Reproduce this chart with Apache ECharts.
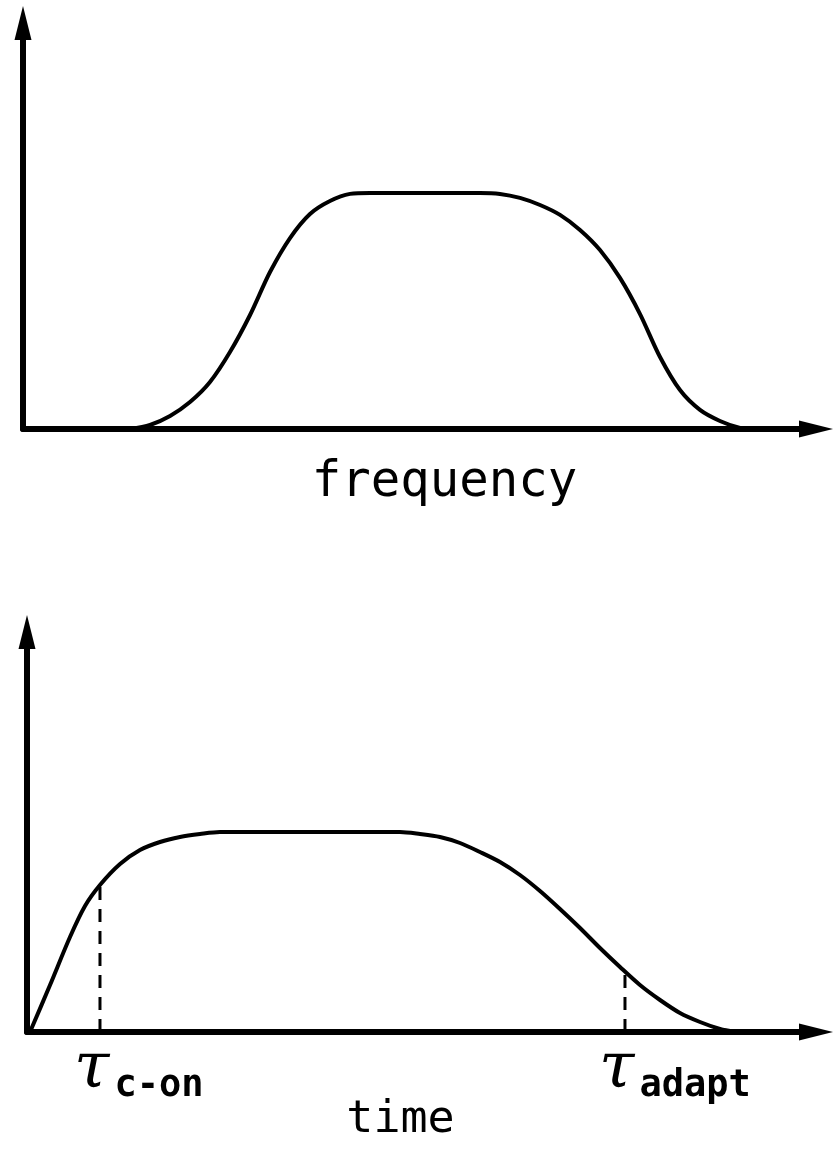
<!DOCTYPE html>
<html>
<head>
<meta charset="utf-8">
<script src="https://cdn.jsdelivr.net/npm/echarts@6/dist/echarts.min.js"></script>
<style>
  html, body { margin: 0; padding: 0; background: #fff; }
  #chart { width: 833px; height: 1162px; }
</style>
</head>
<body>
<div id="chart"></div>
<script>
// Upper panel: response across frequency (relative units, plateau = 1)
const freqX = [13.49, 16.02, 18.54, 21.06, 23.58, 26.10, 28.63, 31.15, 33.67, 36.19, 38.71, 41.24, 43.76,
               57.63, 60.15, 62.67, 65.20, 67.72, 70.24, 72.76, 75.28, 77.81, 80.33, 82.85, 85.37, 87.89, 90.42, 91.68];
const freqY = [0, 0.017, 0.055, 0.114, 0.199, 0.326, 0.483, 0.665, 0.809, 0.911, 0.966, 0.996, 1.0,
               1.0, 0.996, 0.979, 0.949, 0.907, 0.843, 0.758, 0.640, 0.487, 0.305, 0.165, 0.081, 0.034, 0.004, 0];

// Lower panel: response over time
const timeX = [0.38, 2.92, 5.45, 7.35, 9.25, 11.79, 14.32, 16.86, 19.39, 21.93, 24.46, 47.27,
               49.81, 52.34, 54.88, 57.41, 59.95, 62.48, 65.02, 67.55, 70.09, 72.62, 75.16, 77.69, 80.23, 82.76, 85.30, 87.83, 89.73];
const timeY = [0, 0.235, 0.475, 0.63, 0.735, 0.84, 0.91, 0.95, 0.975, 0.99, 1.0, 1.0,
               0.99, 0.975, 0.945, 0.90, 0.85, 0.785, 0.705, 0.615, 0.52, 0.42, 0.325, 0.235, 0.16, 0.095, 0.05, 0.015, 0];

// Time constants marked on the time axis
const tauNames = ['c-on', 'adapt'];
const tauX = [9.25, 75.79];
const tauY = [0.735, 0.30];

const axisTitles = ['frequency', 'time'];

const ink = '#000';
const mono = 'DejaVu Sans Mono';

function axisLineStyle() {
  return {
    show: true,
    symbol: ['none', 'triangle'],
    symbolSize: [17, 34],
    lineStyle: { color: ink, width: 6, cap: 'round' }
  };
}

function valueAxis(idx, extra) {
  return Object.assign({
    type: 'value',
    gridIndex: idx,
    axisLine: axisLineStyle(),
    axisTick: { show: false },
    axisLabel: { show: false },
    splitLine: { show: false }
  }, extra);
}

function curve(idx, xs, ys) {
  return {
    type: 'line',
    xAxisIndex: idx, yAxisIndex: idx,
    data: xs.map((x, i) => [x, ys[i]]),
    smooth: 0.3,
    showSymbol: false,
    lineStyle: { color: ink, width: 4 },
    z: 5
  };
}

const series = [curve(0, freqX, freqY), curve(1, timeX, timeY)];

// dashed drop lines from the curve to the time axis
tauX.forEach((x, i) => {
  series.push({
    type: 'line',
    xAxisIndex: 1, yAxisIndex: 1,
    data: [[x, 0], [x, tauY[i]]],
    showSymbol: false,
    lineStyle: { color: ink, width: 3, type: [13, 9] },
    z: 3
  });
});

// τ labels under the drop lines
series.push({
  type: 'scatter',
  xAxisIndex: 1, yAxisIndex: 1,
  symbolSize: 0,
  itemStyle: { opacity: 1 },
  data: tauX.map((x, i) => ({ value: [x, 0], name: tauNames[i] })),
  label: {
    show: true,
    color: ink,
    opacity: 1,
    position: 'bottom',
    distance: 6,
    align: 'left',
    offset: [-26, 0],
    formatter: p => '{t|τ}{s|' + p.name + '}',
    rich: {
      t: { fontFamily: 'DejaVu Serif', fontStyle: 'italic', fontSize: 64, color: ink, lineHeight: 64, verticalAlign: 'top' },
      s: { fontFamily: mono, fontWeight: 'bold', fontSize: 37, color: ink, padding: [30, 0, 0, 5], verticalAlign: 'top' }
    }
  },
  z: 6
});

const option = {
  animation: false,
  backgroundColor: '#fff',
  grid: [
    { left: 23, top: 23, width: 793, height: 406 },
    { left: 27, top: 632, width: 789, height: 400 }
  ],
  xAxis: [
    valueAxis(0, { min: 0, max: 100, name: axisTitles[0], nameLocation: 'middle', nameGap: 30,
      nameTextStyle: { fontFamily: mono, fontSize: 49, color: ink, padding: [0, 0, 0, 50] } }),
    valueAxis(1, { min: 0, max: 100, name: axisTitles[1], nameLocation: 'middle', nameGap: 66,
      nameTextStyle: { fontFamily: mono, fontSize: 45, color: ink, padding: [0, 42, 0, 0] } })
  ],
  yAxis: [
    valueAxis(0, { min: 0, max: 1.72 }),
    valueAxis(1, { min: 0, max: 2 })
  ],
  series: series
};

echarts.init(document.getElementById('chart'), null, { renderer: 'canvas' }).setOption(option);
</script>
</body>
</html>
